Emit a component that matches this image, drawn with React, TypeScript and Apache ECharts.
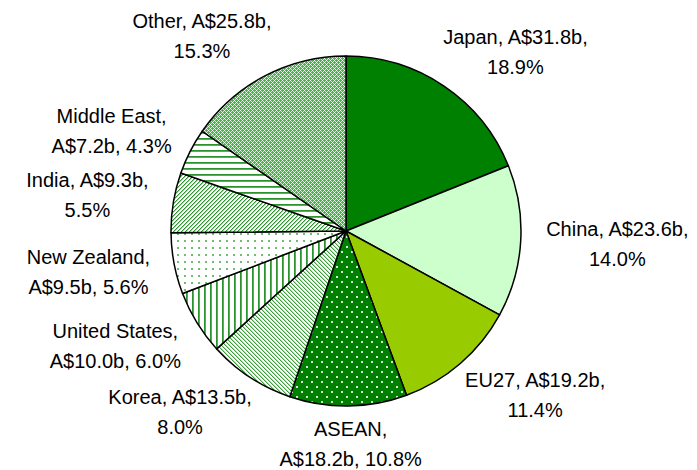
import React, { useEffect, useRef } from "react";
import * as echarts from "echarts";

// ---- data ----
const regions = ["Japan", "China", "EU27", "ASEAN", "Korea", "United States", "New Zealand", "India", "Middle East", "Other"];
const valuesBn = [31.8, 23.6, 19.2, 18.2, 13.5, 10.0, 9.5, 9.3, 7.2, 25.8];
const sharesPct = ["18.9", "14.0", "11.4", "10.8", "8.0", "6.0", "5.6", "5.5", "4.3", "15.3"];
const breakAfterName = [false, false, false, true, false, true, true, false, true, false];

const CX = 346;
const CY = 231;
const R = 175;

type Draw = (x: number, y: number) => string | null;

function tile(w: number, h: number, bg: string, draw: Draw): HTMLCanvasElement {
  const c = document.createElement("canvas");
  c.width = w;
  c.height = h;
  const ctx = c.getContext("2d")!;
  ctx.fillStyle = bg;
  ctx.fillRect(0, 0, w, h);
  for (let y = 0; y < h; y++) {
    for (let x = 0; x < w; x++) {
      const col = draw(x, y);
      if (col) {
        ctx.fillStyle = col;
        ctx.fillRect(x, y, 1, 1);
      }
    }
  }
  return c;
}

const G = "#2b932b";
const GL = "#a6d6a6";

function buildFills(): any[] {
  const asean = tile(10, 10, "#008000", (x, y) =>
    ((x === 1 || x === 2) && (y === 1 || y === 2)) || ((x === 6 || x === 7) && (y === 6 || y === 7)) ? "#cfe8cf" : null
  );
  const korea = tile(4, 4, "#ffffff", (x, y) => {
    const m = (((x - y) % 4) + 4) % 4;
    return m === 0 ? "#3a9d3a" : m === 1 ? "#b5deb5" : null;
  });
  const us = tile(6, 6, "#ffffff", (x) => (x === 0 ? G : x === 1 ? "#5aab5a" : null));
  const nz = tile(7, 7, "#ffffff", (x, y) => ((x === 2 || x === 3) && (y === 2 || y === 3) ? "#72bc72" : null));
  const india = tile(4, 4, "#ffffff", (x, y) => {
    const m = (x + y) % 4;
    return m === 0 ? G : m === 1 ? GL : null;
  });
  const me = tile(6, 6, "#ffffff", (_x, y) => (y === 0 ? G : y === 1 ? "#5aab5a" : null));
  const other = tile(4, 4, "#4fae4f", (x, y) => {
    const a = (x + y) % 4 === 2;
    const b = (((x - y) % 4) + 4) % 4 === 2;
    return a && b ? "#ffffff" : a || b ? "#cdebcd" : null;
  });
  return [
    "#008000",
    "#ccffcc",
    "#99cc00",
    { image: asean, repeat: "repeat" },
    { image: korea, repeat: "repeat" },
    { image: us, repeat: "repeat" },
    { image: nz, repeat: "repeat" },
    { image: india, repeat: "repeat" },
    { image: me, repeat: "repeat" },
    { image: other, repeat: "repeat" },
  ];
}

const total = valuesBn.reduce((a, b) => a + b, 0);
const midAngles: number[] = (() => {
  const out: number[] = [];
  let acc = 0;
  for (const v of valuesBn) {
    out.push(((acc + v / 2) / total) * Math.PI * 2);
    acc += v;
  }
  return out;
})();

function labelText(i: number): string {
  const val = `A$${valuesBn[i].toFixed(1)}b`;
  return breakAfterName[i]
    ? `${regions[i]},\n${val}, ${sharesPct[i]}%`
    : `${regions[i]}, ${val},\n${sharesPct[i]}%`;
}

export default function App() {
  const ref = useRef<HTMLDivElement>(null);
  useEffect(() => {
    if (!ref.current) return;
    const chart = echarts.init(ref.current, undefined, { renderer: "svg" });
    const fills = buildFills();
    chart.setOption({
      animation: false,
      backgroundColor: "#ffffff",
      series: [
        {
          type: "pie",
          center: [CX, CY],
          radius: [0, R],
          startAngle: 90,
          clockwise: true,
          avoidLabelOverlap: false,
          emphasis: { disabled: true },
          itemStyle: { borderColor: "#000000", borderWidth: 1.5 },
          label: {
            show: true,
            position: "outside",
            formatter: (p: any) => labelText(p.dataIndex),
            fontFamily: "Liberation Sans, Arial, sans-serif",
            fontSize: 20,
            lineHeight: 30,
            color: "#000000",
            align: "center",
          },
          labelLine: { show: false },
          labelLayout: (params: any) => {
            const i = params.dataIndex;
            const th = midAngles[i];
            const dx = Math.sin(th);
            const dy = -Math.cos(th);
            const ax = CX + R * dx;
            const ay = CY + R * dy;
            const W = params.labelRect.width / 2;
            let ox: number;
            if (Math.abs(dx) < 0.3) ox = (dx / 0.3) * (W - 17);
            else ox = Math.sign(dx) * (W + 60 * Math.abs(dx) - 35);
            const oy = 45 * dy - 7 * Math.pow(Math.max(0, dy), 4) + 8 * Math.max(0, dx) * Math.max(0, -dy);
            return { x: ax + ox, y: ay + oy, align: "center", verticalAlign: "middle" };
          },
          data: regions.map((name, i) => ({
            name,
            value: valuesBn[i],
            itemStyle: { color: fills[i] },
          })),
        },
      ],
    });
    return () => chart.dispose();
  }, []);
  return (
    <div
      ref={ref}
      style={{ position: "absolute", left: 0, top: 0, width: 697, height: 470, background: "#fff" }}
    />
  );
}
